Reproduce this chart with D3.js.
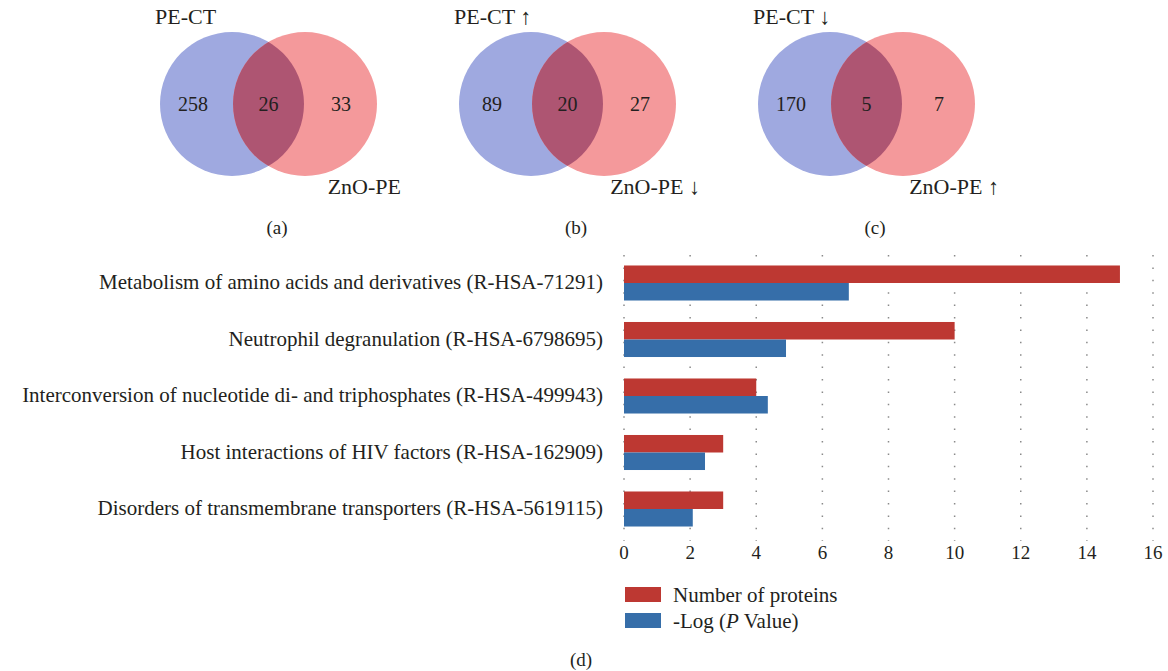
<!DOCTYPE html>
<html>
<head>
<meta charset="utf-8">
<script src="https://cdn.jsdelivr.net/npm/d3@7"></script>
<style>
  body { margin: 0; background: #fff; }
  text { font-family: "Liberation Serif", "DejaVu Serif", serif; fill: #231f20; }
</style>
</head>
<body>
<script>
// venn data
var panelTags = ["(a)", "(b)", "(c)"];
var leftNames = ["PE-CT", "PE-CT \u2191", "PE-CT \u2193"];
var rightNames = ["ZnO-PE", "ZnO-PE \u2193", "ZnO-PE \u2191"];
var leftOnly = [258, 89, 170];
var shared = [26, 20, 5];
var rightOnly = [33, 27, 7];

// bar data
var pathways = [
    "Metabolism of amino acids and derivatives (R-HSA-71291)",
    "Neutrophil degranulation (R-HSA-6798695)",
    "Interconversion of nucleotide di- and triphosphates (R-HSA-499943)",
    "Host interactions of HIV factors (R-HSA-162909)",
    "Disorders of transmembrane transporters (R-HSA-5619115)"
];
var proteinCounts = [15, 10, 4, 3, 3];
var negLogP = [6.8, 4.9, 4.35, 2.45, 2.08];
var seriesNames = ["Number of proteins", "-Log (P Value)"];
var xTicks = [0, 2, 4, 6, 8, 10, 12, 14, 16];

var W = 1168, H = 671;
var svg = d3.select("body").append("svg")
    .attr("width", W)
    .attr("height", H);

var defs = svg.append("defs");

// ---- venn panels ----
var vennX = d3.scalePoint().domain(panelTags).range([232, 830]); // left circle centre
var r = 72, gap = 73, cy = 104;

panelTags.forEach(function (tag, i) {
    var lx = vennX(tag), rx = lx + gap;
    var g = svg.append("g");

    defs.append("clipPath").attr("id", "clip" + i)
        .append("circle").attr("cx", lx).attr("cy", cy).attr("r", r);

    g.append("circle").attr("cx", lx).attr("cy", cy).attr("r", r).style("fill", "#9fa9e0");
    g.append("circle").attr("cx", rx).attr("cy", cy).attr("r", r).style("fill", "#f4999b");
    g.append("circle").attr("cx", rx).attr("cy", cy).attr("r", r)
        .attr("clip-path", "url(#clip" + i + ")")
        .style("fill", "#ae5572");

    g.append("text").attr("x", lx - 77).attr("y", 24).text(leftNames[i])
        .style("font-size", "22px");
    g.append("text").attr("x", rx + 96).attr("y", 194).text(rightNames[i])
        .style("font-size", "22px").style("text-anchor", "end");

    [[lx - 39, leftOnly[i]], [(lx + rx) / 2, shared[i]], [rx + 36, rightOnly[i]]].forEach(function (d) {
        g.append("text").attr("x", d[0]).attr("y", cy).attr("dy", ".35em")
            .style("text-anchor", "middle").style("font-size", "20px").text(d[1]);
    });

    g.append("text").attr("x", lx + 45).attr("y", 234).text(tag)
        .style("text-anchor", "middle").style("font-size", "19px");
});

// ---- bar chart ----
var x = d3.scaleLinear().domain([0, 16]).range([624, 1153]);
var y = d3.scaleBand().domain(pathways).range([254.75, 537.25])
    .paddingInner(0.38).paddingOuter(0.19);
var ySub = d3.scaleBand().domain(seriesNames).range([0, y.bandwidth()]);
var colors = d3.scaleOrdinal().domain(seriesNames).range(["#bd3832", "#366ea9"]);

// dotted grid
svg.append("g").selectAll("line")
    .data(xTicks)
    .enter().append("line")
    .attr("x1", function (d) { return x(d); })
    .attr("x2", function (d) { return x(d); })
    .attr("y1", 255)
    .attr("y2", 541)
    .style("stroke", "#8a8a8a")
    .style("stroke-width", 1.5)
    .style("stroke-dasharray", "1.5,10.9");

var rows = svg.append("g").selectAll("g")
    .data(pathways)
    .enter().append("g")
    .attr("transform", function (d) { return "translate(0," + y(d) + ")"; });

rows.append("rect")
    .attr("x", x(0))
    .attr("y", ySub(seriesNames[0]))
    .attr("height", ySub.bandwidth())
    .attr("width", function (d, i) { return x(proteinCounts[i]) - x(0); })
    .style("fill", colors(seriesNames[0]));

rows.append("rect")
    .attr("x", x(0))
    .attr("y", ySub(seriesNames[1]))
    .attr("height", ySub.bandwidth())
    .attr("width", function (d, i) { return x(negLogP[i]) - x(0); })
    .style("fill", colors(seriesNames[1]));

rows.append("text")
    .attr("x", 603)
    .attr("y", y.bandwidth() / 2)
    .attr("dy", ".3em")
    .style("text-anchor", "end")
    .style("font-size", "21px")
    .text(function (d) { return d; });

// x tick labels (no axis line)
svg.append("g").selectAll("text")
    .data(xTicks)
    .enter().append("text")
    .attr("x", function (d) { return x(d); })
    .attr("y", 559)
    .style("text-anchor", "middle")
    .style("font-size", "19px")
    .text(function (d) { return d; });

// legend
var legend = svg.selectAll(".legend")
    .data(seriesNames)
    .enter().append("g")
    .attr("class", "legend")
    .attr("transform", function (d, i) { return "translate(625," + (587 + i * 26) + ")"; });

legend.append("rect")
    .attr("width", 36)
    .attr("height", 15)
    .style("fill", function (d) { return colors(d); });

legend.append("text")
    .attr("x", 48)
    .attr("y", 8)
    .attr("dy", ".35em")
    .style("font-size", "21px")
    .each(function (d) {
        var t = d3.select(this);
        if (d.indexOf("(P") >= 0) {
            t.append("tspan").text("-Log (");
            t.append("tspan").style("font-style", "italic").text("P");
            t.append("tspan").text(" Value)");
        } else {
            t.text(d);
        }
    });

svg.append("text").attr("x", 581).attr("y", 666)
    .style("text-anchor", "middle").style("font-size", "19px").text("(d)");
</script>
</body>
</html>
